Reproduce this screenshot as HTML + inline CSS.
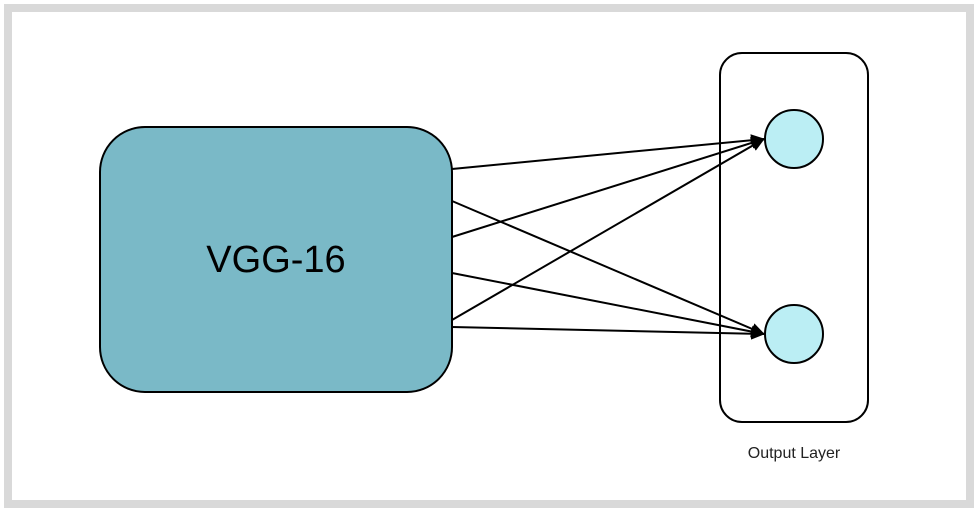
<!DOCTYPE html>
<html><head><meta charset="utf-8"><style>
html,body{margin:0;padding:0;background:#fff;width:978px;height:512px;overflow:hidden}
</style></head><body>
<svg width="978" height="512" style="display:block">
<defs><marker id="ah" markerWidth="14" markerHeight="12" refX="13" refY="6" orient="auto" markerUnits="userSpaceOnUse"><path d="M0,0 L14,6 L0,12 z" fill="#000"/></marker></defs>
<rect x="8" y="8" width="962" height="496" fill="#fff" stroke="#d9d9d9" stroke-width="8"/>
<rect x="100" y="127" width="352" height="265" rx="45" fill="#7ab9c7" stroke="#000" stroke-width="2"/>
<text x="276" y="272" text-anchor="middle" font-family="Liberation Sans, sans-serif" font-size="38">VGG-16</text>
<rect x="720" y="53" width="148" height="369" rx="22" fill="none" stroke="#000" stroke-width="2"/>
<g stroke="#000" stroke-width="2" marker-end="url(#ah)">
<line x1="452" y1="169" x2="764" y2="139"/>
<line x1="452" y1="201" x2="764" y2="334"/>
<line x1="452" y1="237" x2="764" y2="139"/>
<line x1="452" y1="273" x2="764" y2="334"/>
<line x1="452" y1="320" x2="764" y2="139"/>
<line x1="452" y1="327" x2="764" y2="334"/>
</g>
<circle cx="794" cy="139" r="29" fill="#bbeef4" stroke="#000" stroke-width="2"/>
<circle cx="794" cy="334" r="29" fill="#bbeef4" stroke="#000" stroke-width="2"/>
<text x="794" y="458" text-anchor="middle" font-family="Liberation Sans, sans-serif" font-size="16" fill="#222">Output Layer</text>
</svg>
</body></html>
